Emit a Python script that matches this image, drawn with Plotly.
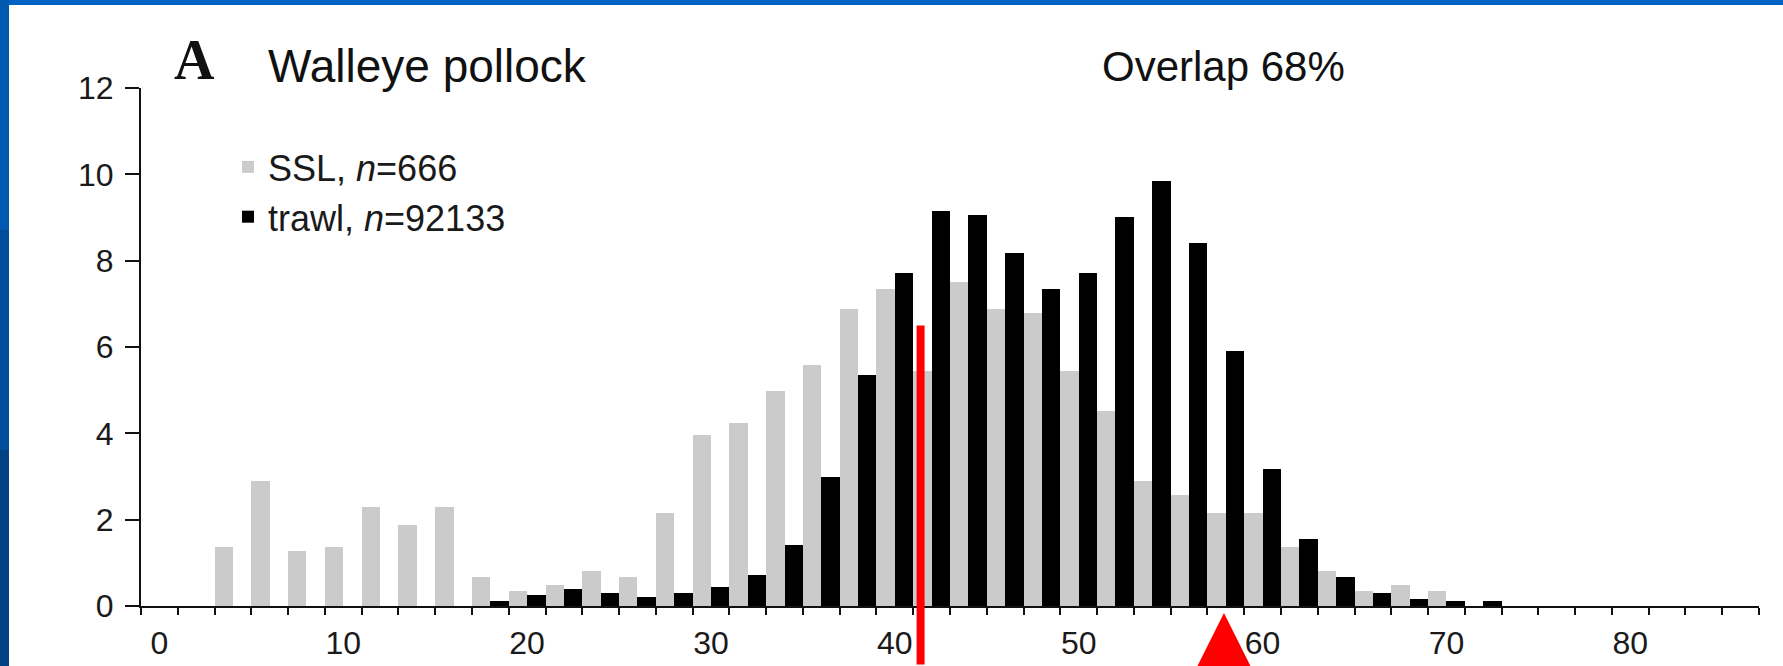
import plotly.graph_objects as go

# ---------------- data ----------------
length_bins = [0, 2, 4, 6, 8, 10, 12, 14, 16, 18, 20, 22, 24, 26, 28, 30, 32, 34,
               36, 38, 40, 42, 44, 46, 48, 50, 52, 54, 56, 58, 60, 62, 64, 66, 68,
               70, 72, 74, 76, 78, 80, 82, 84, 86]
ssl_pct = [0, 0, 1.36, 2.89, 1.27, 1.36, 2.30, 1.88, 2.30, 0.67, 0.34, 0.48, 0.81,
           0.67, 2.16, 3.96, 4.24, 4.99, 5.59, 6.88, 7.34, 5.45, 7.51, 6.87, 6.78,
           5.45, 4.52, 2.89, 2.57, 2.16, 2.16, 1.36, 0.81, 0.35, 0.48, 0.34,
           0, 0, 0, 0, 0, 0, 0, 0]
trawl_pct = [0, 0, 0, 0, 0, 0, 0, 0, 0, 0.11, 0.25, 0.39, 0.29, 0.20, 0.29, 0.43,
             0.71, 1.41, 2.98, 5.35, 7.71, 9.15, 9.06, 8.17, 7.34, 7.71, 9.01, 9.85,
             8.40, 5.91, 3.17, 1.55, 0.67, 0.29, 0.16, 0.12, 0.11,
             0, 0, 0, 0, 0, 0, 0]
x_tick_vals = [0, 10, 20, 30, 40, 50, 60, 70, 80]
y_tick_vals = [0, 2, 4, 6, 8, 10, 12]
series_names = ["SSL, <i>n</i>=666", "trawl, <i>n</i>=92133"]
title_letter = "A"
title_text = "Walleye pollock"
overlap_text = "Overlap 68%"
red_line_x = 41.4      # vertical red marker (cm)
red_line_top = 6.5
red_arrow_x = 57.9     # red arrow under the axis (cm)

# ---------------- layout constants (pixels) ----------------
W, H = 1783, 666
ML, MR, MT, MB = 141, 24, 88, 60
PW, PH = W - ML - MR, H - MT - MB


def px_x(p):
    return (p - ML) / PW


def px_y(p):
    return (H - MB - p) / PH


FONT = "Liberation Sans, Arial, Helvetica, sans-serif"
GRAY = "#CBCBCB"
INK = "#1a1a1a"

fig = go.Figure()
fig.add_trace(go.Bar(x=length_bins, y=ssl_pct, name=series_names[0],
                     marker=dict(color=GRAY, line=dict(width=0)), legendgroup="a"))
fig.add_trace(go.Bar(x=length_bins, y=trawl_pct, name=series_names[1],
                     marker=dict(color="#000000", line=dict(width=0)), legendgroup="b"))

fig.update_layout(
    width=W, height=H,
    margin=dict(l=ML, r=MR, t=MT, b=MB, pad=0),
    paper_bgcolor="white", plot_bgcolor="white",
    barmode="group", bargap=0, bargroupgap=0,
    font=dict(family=FONT, color=INK),
    legend=dict(x=px_x(228), y=px_y(137), xanchor="left", yanchor="top",
                font=dict(size=36, family=FONT, color=INK),
                bgcolor="rgba(0,0,0,0)", tracegroupgap=0, itemwidth=30),
    xaxis=dict(range=[-1, 87], tickmode="array", tickvals=x_tick_vals,
               ticks="outside", ticklen=8, tickcolor="rgba(0,0,0,0)",
               showline=True, linecolor="#111", linewidth=2,
               showgrid=False, zeroline=False, automargin=False,
               tickfont=dict(size=32, family=FONT, color=INK),
               minor=dict(tick0=1, dtick=2, ticks="outside", ticklen=7,
                          tickwidth=2, tickcolor="#111", showgrid=False)),
    yaxis=dict(range=[0, 12], tickmode="array", tickvals=y_tick_vals,
               ticks="outside", ticklen=14, tickwidth=2, tickcolor="#111",
               ticklabelstandoff=5,
               showline=True, linecolor="#111", linewidth=2,
               showgrid=False, zeroline=False, automargin=False,
               tickfont=dict(size=32, family=FONT, color=INK)),
)

# titles
fig.add_annotation(text="<b>" + title_letter + "</b>", xref="paper", yref="paper",
                   x=px_x(194), y=px_y(60), xanchor="center", yanchor="middle",
                   showarrow=False,
                   font=dict(size=56, family="Liberation Serif, Times New Roman, serif",
                             color="#111"))
fig.add_annotation(text=title_text, xref="paper", yref="paper",
                   x=px_x(266), y=px_y(66), xanchor="left", yanchor="middle",
                   showarrow=False, font=dict(size=46, family=FONT, color="#111"))
fig.add_annotation(text=overlap_text, xref="paper", yref="paper",
                   x=px_x(1223), y=px_y(66), xanchor="center", yanchor="middle",
                   showarrow=False, font=dict(size=42, family=FONT, color="#111"))

# red vertical marker line (extends below the axis)
fig.add_annotation(text="", x=red_line_x, y=red_line_top, xref="x", yref="y",
                   showarrow=True, arrowhead=0, arrowwidth=8, arrowcolor="#FF0000",
                   ax=0, ay=420, standoff=0)
# red arrow pointing up at the axis
fig.add_annotation(text="", x=red_arrow_x, y=px_y(613), xref="x", yref="paper",
                   showarrow=True, arrowhead=3, arrowwidth=10, arrowsize=2.6,
                   arrowcolor="#FF0000", ax=0, ay=200, standoff=0)

# blue slide frame (top and left strips)
fig.add_shape(type="rect", xref="paper", yref="paper", layer="above",
              x0=px_x(0), x1=px_x(W), y0=px_y(5), y1=px_y(0),
              fillcolor="#0062C4", line=dict(width=0))
for (a, b, c) in [(0, 230, "#0058B0"), (230, 450, "#004D9A"), (450, 666, "#004283")]:
    fig.add_shape(type="rect", xref="paper", yref="paper", layer="above",
                  x0=px_x(0), x1=px_x(9), y0=px_y(b), y1=px_y(a),
                  fillcolor=c, line=dict(width=0))

fig.write_html("out.html",
               config={"displayModeBar": False},
               post_script="document.body.style.margin='0';"
                           "document.body.style.overflow='hidden';")
